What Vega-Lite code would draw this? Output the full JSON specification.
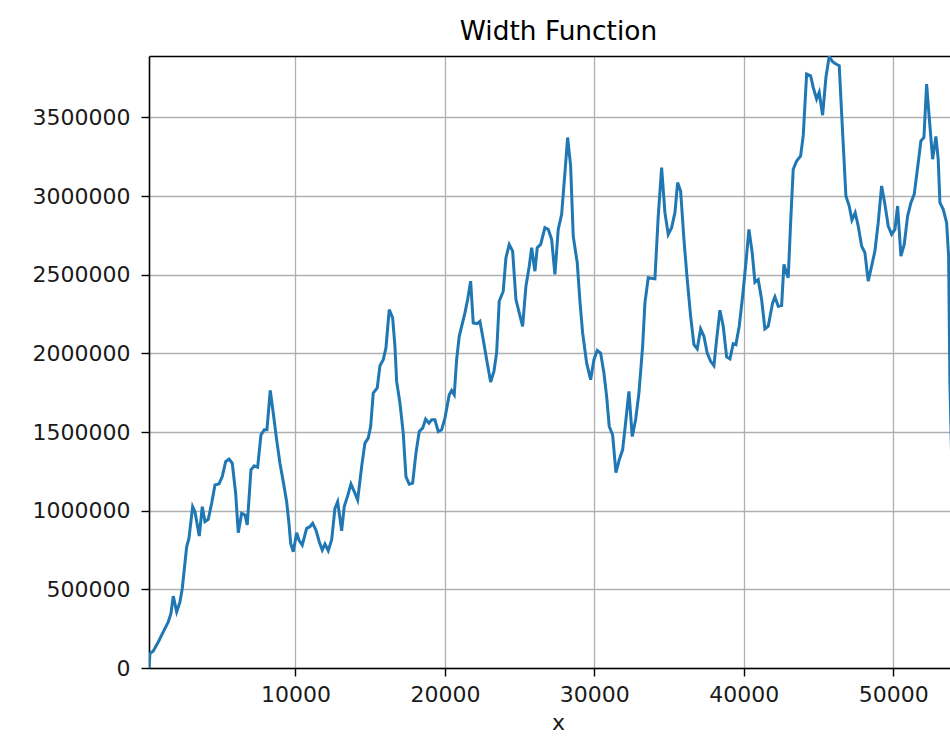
{
  "$schema": "https://vega.github.io/schema/vega-lite/v6.json",
  "width": 801,
  "height": 612,
  "autosize": "none",
  "padding": {"left": 149, "top": 56, "right": 0, "bottom": 69},
  "background": "white",
  "title": {
    "text": "Width Function",
    "font": "DejaVu Sans",
    "fontSize": 26.4,
    "fontWeight": "normal",
    "color": "#000000",
    "anchor": "middle",
    "dx": 9,
    "offset": 11
  },
  "config": {
    "view": {"stroke": null},
    "font": "DejaVu Sans"
  },
  "data": {
    "values": [
      {"x": 200, "y": 0},
      {"x": 264, "y": 91700},
      {"x": 485, "y": 108300},
      {"x": 820, "y": 165600},
      {"x": 1154, "y": 229300},
      {"x": 1489, "y": 293000},
      {"x": 1669, "y": 346500},
      {"x": 1823, "y": 456700},
      {"x": 2051, "y": 356700},
      {"x": 2272, "y": 420400},
      {"x": 2426, "y": 505700},
      {"x": 2720, "y": 770700},
      {"x": 2874, "y": 824200},
      {"x": 3121, "y": 1025500},
      {"x": 3275, "y": 993600},
      {"x": 3563, "y": 838800},
      {"x": 3764, "y": 1025500},
      {"x": 3944, "y": 929900},
      {"x": 4165, "y": 945200},
      {"x": 4393, "y": 1047100},
      {"x": 4614, "y": 1163700},
      {"x": 4881, "y": 1170000},
      {"x": 5102, "y": 1216600},
      {"x": 5330, "y": 1312100},
      {"x": 5550, "y": 1327400},
      {"x": 5771, "y": 1301900},
      {"x": 5999, "y": 1110800},
      {"x": 6173, "y": 859900},
      {"x": 6400, "y": 983400},
      {"x": 6621, "y": 972600},
      {"x": 6775, "y": 908900},
      {"x": 7022, "y": 1259200},
      {"x": 7243, "y": 1284700},
      {"x": 7471, "y": 1276400},
      {"x": 7692, "y": 1482200},
      {"x": 7912, "y": 1514000},
      {"x": 8093, "y": 1514000},
      {"x": 8314, "y": 1764300},
      {"x": 8515, "y": 1620400},
      {"x": 8742, "y": 1450300},
      {"x": 8963, "y": 1301900},
      {"x": 9184, "y": 1184700},
      {"x": 9411, "y": 1057300},
      {"x": 9565, "y": 919700},
      {"x": 9679, "y": 792400},
      {"x": 9853, "y": 738800},
      {"x": 10080, "y": 859900},
      {"x": 10234, "y": 813400},
      {"x": 10455, "y": 781500},
      {"x": 10749, "y": 887900},
      {"x": 10970, "y": 898100},
      {"x": 11151, "y": 919700},
      {"x": 11372, "y": 877000},
      {"x": 11592, "y": 802500},
      {"x": 11793, "y": 749700},
      {"x": 11974, "y": 787900},
      {"x": 12195, "y": 745200},
      {"x": 12422, "y": 813400},
      {"x": 12643, "y": 1015300},
      {"x": 12824, "y": 1057300},
      {"x": 13091, "y": 872600},
      {"x": 13265, "y": 1025500},
      {"x": 13493, "y": 1093600},
      {"x": 13714, "y": 1170000},
      {"x": 13935, "y": 1121000},
      {"x": 14162, "y": 1068100},
      {"x": 14430, "y": 1280300},
      {"x": 14650, "y": 1429300},
      {"x": 14871, "y": 1461200},
      {"x": 15032, "y": 1535000},
      {"x": 15206, "y": 1747800},
      {"x": 15473, "y": 1779600},
      {"x": 15654, "y": 1921600},
      {"x": 15875, "y": 1959900},
      {"x": 16055, "y": 2034400},
      {"x": 16276, "y": 2278300},
      {"x": 16504, "y": 2225500},
      {"x": 16658, "y": 2044600},
      {"x": 16771, "y": 1821700},
      {"x": 16992, "y": 1684100},
      {"x": 17213, "y": 1493000},
      {"x": 17394, "y": 1216600},
      {"x": 17615, "y": 1168100},
      {"x": 17842, "y": 1174500},
      {"x": 18063, "y": 1365600},
      {"x": 18284, "y": 1503200},
      {"x": 18511, "y": 1524800},
      {"x": 18712, "y": 1582100},
      {"x": 18933, "y": 1556700},
      {"x": 19113, "y": 1577700},
      {"x": 19334, "y": 1577700},
      {"x": 19555, "y": 1503200},
      {"x": 19782, "y": 1514000},
      {"x": 20003, "y": 1588500},
      {"x": 20291, "y": 1737000},
      {"x": 20451, "y": 1764300},
      {"x": 20625, "y": 1737000},
      {"x": 20786, "y": 1959900},
      {"x": 20960, "y": 2108300},
      {"x": 21121, "y": 2172000},
      {"x": 21342, "y": 2257300},
      {"x": 21522, "y": 2342000},
      {"x": 21723, "y": 2458600},
      {"x": 21897, "y": 2193600},
      {"x": 22165, "y": 2189200},
      {"x": 22345, "y": 2203800},
      {"x": 22566, "y": 2087300},
      {"x": 22833, "y": 1938900},
      {"x": 23061, "y": 1817800},
      {"x": 23282, "y": 1885300},
      {"x": 23462, "y": 2002500},
      {"x": 23636, "y": 2331200},
      {"x": 23904, "y": 2394900},
      {"x": 24085, "y": 2607600},
      {"x": 24306, "y": 2692300},
      {"x": 24533, "y": 2649700},
      {"x": 24754, "y": 2342000},
      {"x": 24975, "y": 2257300},
      {"x": 25202, "y": 2172000},
      {"x": 25423, "y": 2426800},
      {"x": 25644, "y": 2554100},
      {"x": 25805, "y": 2671400},
      {"x": 26025, "y": 2522300},
      {"x": 26179, "y": 2671400},
      {"x": 26407, "y": 2692300},
      {"x": 26694, "y": 2798700},
      {"x": 26915, "y": 2787900},
      {"x": 27143, "y": 2724200},
      {"x": 27363, "y": 2501300},
      {"x": 27584, "y": 2787900},
      {"x": 27812, "y": 2883400},
      {"x": 28033, "y": 3149000},
      {"x": 28213, "y": 3371900},
      {"x": 28414, "y": 3191100},
      {"x": 28588, "y": 2745200},
      {"x": 28856, "y": 2575800},
      {"x": 29036, "y": 2331200},
      {"x": 29217, "y": 2129900},
      {"x": 29484, "y": 1938900},
      {"x": 29752, "y": 1832500},
      {"x": 29973, "y": 1959900},
      {"x": 30194, "y": 2019100},
      {"x": 30421, "y": 2002500},
      {"x": 30642, "y": 1875100},
      {"x": 30823, "y": 1726100},
      {"x": 30997, "y": 1535000},
      {"x": 31224, "y": 1482200},
      {"x": 31445, "y": 1242000},
      {"x": 31666, "y": 1322900},
      {"x": 31893, "y": 1386600},
      {"x": 32114, "y": 1577700},
      {"x": 32315, "y": 1757900},
      {"x": 32536, "y": 1471300},
      {"x": 32763, "y": 1577700},
      {"x": 32984, "y": 1747800},
      {"x": 33232, "y": 2044600},
      {"x": 33386, "y": 2321000},
      {"x": 33607, "y": 2480300},
      {"x": 33901, "y": 2475800},
      {"x": 34055, "y": 2473900},
      {"x": 34276, "y": 2872600},
      {"x": 34503, "y": 3180900},
      {"x": 34724, "y": 2894300},
      {"x": 34945, "y": 2756000},
      {"x": 35172, "y": 2798700},
      {"x": 35393, "y": 2894300},
      {"x": 35574, "y": 3085300},
      {"x": 35775, "y": 3031800},
      {"x": 35996, "y": 2724200},
      {"x": 36216, "y": 2469400},
      {"x": 36444, "y": 2235700},
      {"x": 36665, "y": 2055400},
      {"x": 36885, "y": 2028000},
      {"x": 37113, "y": 2155400},
      {"x": 37333, "y": 2108300},
      {"x": 37554, "y": 2002500},
      {"x": 37782, "y": 1949000},
      {"x": 38003, "y": 1921600},
      {"x": 38183, "y": 2087300},
      {"x": 38404, "y": 2273900},
      {"x": 38625, "y": 2172000},
      {"x": 38852, "y": 1977000},
      {"x": 39073, "y": 1964300},
      {"x": 39294, "y": 2061700},
      {"x": 39474, "y": 2055400},
      {"x": 39695, "y": 2172000},
      {"x": 39923, "y": 2363000},
      {"x": 40144, "y": 2575800},
      {"x": 40344, "y": 2787900},
      {"x": 40565, "y": 2639500},
      {"x": 40746, "y": 2452200},
      {"x": 40967, "y": 2469400},
      {"x": 41194, "y": 2342000},
      {"x": 41415, "y": 2155400},
      {"x": 41636, "y": 2172000},
      {"x": 41930, "y": 2321000},
      {"x": 42084, "y": 2359200},
      {"x": 42305, "y": 2299400},
      {"x": 42533, "y": 2303800},
      {"x": 42687, "y": 2565000},
      {"x": 42821, "y": 2522300},
      {"x": 42974, "y": 2480300},
      {"x": 43135, "y": 2830600},
      {"x": 43309, "y": 3170100},
      {"x": 43537, "y": 3222900},
      {"x": 43804, "y": 3254800},
      {"x": 43978, "y": 3382200},
      {"x": 44206, "y": 3775100},
      {"x": 44473, "y": 3764300},
      {"x": 44647, "y": 3690400},
      {"x": 44875, "y": 3615900},
      {"x": 45049, "y": 3658600},
      {"x": 45276, "y": 3514000},
      {"x": 45497, "y": 3754200},
      {"x": 45718, "y": 3887900},
      {"x": 45945, "y": 3853500},
      {"x": 46166, "y": 3838800},
      {"x": 46387, "y": 3828000},
      {"x": 46614, "y": 3403800},
      {"x": 46835, "y": 3000000},
      {"x": 47056, "y": 2936300},
      {"x": 47237, "y": 2847100},
      {"x": 47457, "y": 2894300},
      {"x": 47658, "y": 2808900},
      {"x": 47886, "y": 2681500},
      {"x": 48106, "y": 2639500},
      {"x": 48327, "y": 2458600},
      {"x": 48555, "y": 2554100},
      {"x": 48775, "y": 2649700},
      {"x": 48996, "y": 2830600},
      {"x": 49224, "y": 3063700},
      {"x": 49445, "y": 2947100},
      {"x": 49666, "y": 2808900},
      {"x": 49893, "y": 2756000},
      {"x": 50114, "y": 2787900},
      {"x": 50295, "y": 2936300},
      {"x": 50515, "y": 2617800},
      {"x": 50736, "y": 2692300},
      {"x": 50964, "y": 2872600},
      {"x": 51185, "y": 2958000},
      {"x": 51405, "y": 3010800},
      {"x": 51633, "y": 3180900},
      {"x": 51854, "y": 3350300},
      {"x": 52055, "y": 3371900},
      {"x": 52235, "y": 3711500},
      {"x": 52409, "y": 3499300},
      {"x": 52637, "y": 3233800},
      {"x": 52857, "y": 3378300},
      {"x": 53011, "y": 3233800},
      {"x": 53125, "y": 2958000},
      {"x": 53346, "y": 2915300},
      {"x": 53573, "y": 2830600},
      {"x": 53707, "y": 2617800},
      {"x": 53794, "y": 1811500},
      {"x": 53928, "y": 1259200}
    ]
  },
  "resolve": {"axis": {"x": "independent", "y": "independent"}},
  "layer": [
    {
      "mark": {"type": "line", "color": "#1f77b4", "strokeWidth": 3, "clip": true},
      "encoding": {
        "x": {
          "field": "x", "type": "quantitative",
          "scale": {"domain": [200, 53800], "nice": false, "zero": false},
          "axis": {
            "values": [10000, 20000, 30000, 40000, 50000],
            "format": "d",
            "title": "x",
            "grid": true, "gridColor": "#b0b0b0", "gridWidth": 1.3,
            "domainColor": "#000000", "domainWidth": 1.6,
            "tickColor": "#000000", "tickWidth": 1.4, "tickSize": 8,
            "labelFont": "DejaVu Sans", "labelFontSize": 22, "labelColor": "#1a1a1a",
            "labelPadding": 8.5, "labelFlush": false,
            "titleFont": "DejaVu Sans", "titleFontSize": 22, "titleFontWeight": "normal", "titleColor": "#1a1a1a",
            "titleBaseline": "alphabetic", "titleX": 409, "titleY": 61, "titleAnchor": "middle"
          }
        },
        "y": {
          "field": "y", "type": "quantitative",
          "scale": {"domain": [0, 3890000], "nice": false},
          "axis": {
            "values": [0, 500000, 1000000, 1500000, 2000000, 2500000, 3000000, 3500000],
            "format": "d",
            "title": null,
            "grid": true, "gridColor": "#b0b0b0", "gridWidth": 1.3,
            "domainColor": "#000000", "domainWidth": 1.6,
            "tickColor": "#000000", "tickWidth": 1.4, "tickSize": 8,
            "labelFont": "DejaVu Sans", "labelFontSize": 22, "labelColor": "#1a1a1a",
            "labelPadding": 11, "labelFlush": false
          }
        }
      }
    },
    {
      "mark": {"type": "line", "strokeOpacity": 0, "clip": true},
      "encoding": {
        "x": {
          "field": "x", "type": "quantitative",
          "axis": {
            "orient": "top", "labels": false, "ticks": false, "grid": false, "title": null,
            "domainColor": "#000000", "domainWidth": 1.6
          }
        },
        "y": {"field": "y", "type": "quantitative", "axis": null}
      }
    }
  ]
}
